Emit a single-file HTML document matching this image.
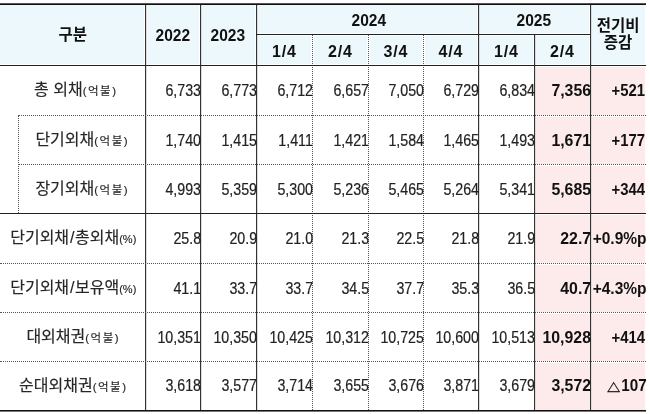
<!DOCTYPE html>
<html lang="ko"><head><meta charset="utf-8"><title>외채 현황</title>
<style>
html,body{margin:0;padding:0;background:#fff;}
body{width:650px;height:414px;position:relative;overflow:hidden;font-family:"Liberation Sans","Noto Sans CJK KR",sans-serif;color:#2a2a2a;}
.bg{position:absolute;}
.h{position:absolute;height:0;border-top:1px solid #222;}
.v{position:absolute;width:0;border-left:1px solid #333;box-shadow:1px 0 0 #dcdcdc;}
.hd{border-top-style:dotted;border-top-color:#555;}
.vd{border-left-style:dotted;border-left-color:#555;box-shadow:none;}
.t{position:absolute;display:flex;align-items:center;white-space:nowrap;box-sizing:border-box;}
.t span{display:inline-block;}
.n{justify-content:flex-end;font-size:16px;padding-top:2px;color:#222;-webkit-text-stroke:0.2px #222;}
.n span{transform:scaleX(0.89);transform-origin:100% 50%;}
.b{font-weight:bold;color:#111;-webkit-text-stroke:0;}
.b span{transform:scaleX(0.99);}
.p1 span{transform:scaleX(0.93);}
.p2 span{transform:scaleX(0.97);}
.p3 span{transform:scaleX(0.95);}
.p3{padding-top:0;}
.r7{padding-top:0.5px;}
.p3 i{font-style:normal;font-size:14px;margin-right:1px;line-height:0;-webkit-text-stroke:0.4px #111;display:inline-block;transform:translateY(1.5px) scaleY(0.82);transform-origin:50% 85%;}
.k{justify-content:center;font-size:16px;padding-bottom:4px;color:#262626;-webkit-text-stroke:0.15px #262626;}
.k small{font-size:11.5px;letter-spacing:1.5px;margin-right:-1.5px;}
.k em{font-style:normal;margin:0 0.5px 0 1px;}
.k small.pc{font-size:11px;letter-spacing:0;}
.hdr{justify-content:center;font-weight:bold;font-size:16px;color:#111;}
.hdr span{transform:scaleX(0.97);}
.hn{padding-top:2px;}
.hs{padding-top:5px;}
.hs span{letter-spacing:0.9px;transform:translateX(0.45px);}
</style></head><body>

<div class="bg" style="left:0px;top:5px;width:144px;height:59px;background:#EDF8FC"></div>
<div class="bg" style="left:147px;top:5px;width:52px;height:59px;background:#EDF8FC"></div>
<div class="bg" style="left:202px;top:5px;width:53px;height:59px;background:#EDF8FC"></div>
<div class="bg" style="left:258px;top:5px;width:219px;height:28px;background:#EDF8FC"></div>
<div class="bg" style="left:480px;top:5px;width:109px;height:28px;background:#EDF8FC"></div>
<div class="bg" style="left:592px;top:5px;width:53px;height:59px;background:#EDF8FC"></div>
<div class="bg" style="left:258px;top:36px;width:53px;height:28px;background:#EDF8FC"></div>
<div class="bg" style="left:314px;top:36px;width:53px;height:28px;background:#EDF8FC"></div>
<div class="bg" style="left:370px;top:36px;width:52px;height:28px;background:#EDF8FC"></div>
<div class="bg" style="left:425px;top:36px;width:52px;height:28px;background:#EDF8FC"></div>
<div class="bg" style="left:480px;top:36px;width:53px;height:28px;background:#EDF8FC"></div>
<div class="bg" style="left:536px;top:36px;width:53px;height:28px;background:#EDF8FC"></div>
<div class="bg" style="left:535px;top:67px;width:55px;height:48px;background:#FDEBEB"></div>
<div class="bg" style="left:592px;top:67px;width:53px;height:48px;background:#FDEBEB"></div>
<div class="bg" style="left:535px;top:117px;width:55px;height:47px;background:#FDEBEB"></div>
<div class="bg" style="left:592px;top:117px;width:53px;height:47px;background:#FDEBEB"></div>
<div class="bg" style="left:535px;top:166px;width:55px;height:47px;background:#FDEBEB"></div>
<div class="bg" style="left:592px;top:166px;width:53px;height:47px;background:#FDEBEB"></div>
<div class="bg" style="left:535px;top:215px;width:55px;height:48px;background:#FDEBEB"></div>
<div class="bg" style="left:592px;top:215px;width:53px;height:48px;background:#FDEBEB"></div>
<div class="bg" style="left:535px;top:265px;width:55px;height:47px;background:#FDEBEB"></div>
<div class="bg" style="left:592px;top:265px;width:53px;height:47px;background:#FDEBEB"></div>
<div class="bg" style="left:535px;top:314px;width:55px;height:47px;background:#FDEBEB"></div>
<div class="bg" style="left:592px;top:314px;width:53px;height:47px;background:#FDEBEB"></div>
<div class="bg" style="left:535px;top:363px;width:55px;height:47px;background:#FDEBEB"></div>
<div class="bg" style="left:592px;top:363px;width:53px;height:47px;background:#FDEBEB"></div>
<div class="bg" style="left:0;top:3px;width:646px;height:1px;background:#555"></div>
<div class="bg" style="left:0;top:4px;width:646px;height:1px;background:#111"></div>
<div class="v vd" style="left:18px;top:115px;height:98px"></div>
<div class="v" style="left:145px;top:5px;height:405px"></div>
<div class="v" style="left:200px;top:5px;height:405px"></div>
<div class="v" style="left:256px;top:5px;height:405px"></div>
<div class="v" style="left:478px;top:5px;height:405px"></div>
<div class="v" style="left:590px;top:5px;height:405px"></div>
<div class="v vd" style="left:312px;top:34px;height:376px"></div>
<div class="v vd" style="left:368px;top:34px;height:376px"></div>
<div class="v vd" style="left:423px;top:34px;height:376px"></div>
<div class="v" style="left:534px;top:34px;height:376px"></div>
<div class="h" style="left:256px;top:34px;width:334px;border-top-width:1px"></div>
<div class="h" style="left:0px;top:65px;width:646px;border-top-width:1px"></div>
<div class="h hd" style="left:18px;top:115px;width:628px;border-top-width:1px"></div>
<div class="h hd" style="left:18px;top:164px;width:628px;border-top-width:1px"></div>
<div class="h" style="left:0px;top:213px;width:646px;border-top-width:1px"></div>
<div class="h hd" style="left:0px;top:263px;width:646px;border-top-width:1px"></div>
<div class="h hd" style="left:0px;top:312px;width:646px;border-top-width:1px"></div>
<div class="h hd" style="left:0px;top:361px;width:646px;border-top-width:1px"></div>
<div class="bg" style="left:0;top:410px;width:646px;height:1px;background:#111"></div>
<div class="bg" style="left:0;top:411px;width:646px;height:1px;background:#777"></div>
<div class="t hdr" style="left:0px;top:1px;width:145px;height:64px;"><span>구분</span></div>
<div class="t hdr hn" style="left:145px;top:5px;width:55px;height:60px;"><span>2022</span></div>
<div class="t hdr hn" style="left:200px;top:5px;width:56px;height:60px;"><span>2023</span></div>
<div class="t hdr hn" style="left:256px;top:5px;width:222px;height:29px;padding-left:3px;"><span>2024</span></div>
<div class="t hdr hn" style="left:478px;top:5px;width:112px;height:29px;"><span>2025</span></div>
<div class="t hdr hs" style="left:256px;top:34px;width:56px;height:31px;"><span>1/4</span></div>
<div class="t hdr hs" style="left:312px;top:34px;width:56px;height:31px;"><span>2/4</span></div>
<div class="t hdr hs" style="left:368px;top:34px;width:55px;height:31px;"><span>3/4</span></div>
<div class="t hdr hs" style="left:423px;top:34px;width:55px;height:31px;"><span>4/4</span></div>
<div class="t hdr hs" style="left:478px;top:34px;width:56px;height:31px;"><span>1/4</span></div>
<div class="t hdr hs" style="left:534px;top:34px;width:56px;height:31px;"><span>2/4</span></div>
<div class="t hdr" style="left:590px;top:3px;width:56px;height:62px;line-height:17.5px;text-align:center;"><span>전기비<br>증감</span></div>
<div class="t k" style="left:0px;top:65px;width:145px;height:50px;padding-left:5px;"><span>총 외채<small>(억불)</small></span></div>
<div class="t n" style="left:145px;top:65px;width:56px;height:50px;"><span>6,733</span></div>
<div class="t n" style="left:200px;top:65px;width:57px;height:50px;"><span>6,773</span></div>
<div class="t n" style="left:256px;top:65px;width:57px;height:50px;"><span>6,712</span></div>
<div class="t n" style="left:312px;top:65px;width:57px;height:50px;"><span>6,657</span></div>
<div class="t n" style="left:368px;top:65px;width:56px;height:50px;"><span>7,050</span></div>
<div class="t n" style="left:423px;top:65px;width:56px;height:50px;"><span>6,729</span></div>
<div class="t n" style="left:478px;top:65px;width:57px;height:50px;"><span>6,834</span></div>
<div class="t n b" style="left:534px;top:65px;width:57px;height:50px;"><span>7,356</span></div>
<div class="t n b p1" style="left:590px;top:65px;width:55px;height:50px;"><span>+521</span></div>
<div class="t k" style="left:18px;top:115px;width:127px;height:49px;"><span>단기외채<small>(억불)</small></span></div>
<div class="t n" style="left:145px;top:115px;width:56px;height:49px;"><span>1,740</span></div>
<div class="t n" style="left:200px;top:115px;width:57px;height:49px;"><span>1,415</span></div>
<div class="t n" style="left:256px;top:115px;width:57px;height:49px;"><span>1,411</span></div>
<div class="t n" style="left:312px;top:115px;width:57px;height:49px;"><span>1,421</span></div>
<div class="t n" style="left:368px;top:115px;width:56px;height:49px;"><span>1,584</span></div>
<div class="t n" style="left:423px;top:115px;width:56px;height:49px;"><span>1,465</span></div>
<div class="t n" style="left:478px;top:115px;width:57px;height:49px;"><span>1,493</span></div>
<div class="t n b" style="left:534px;top:115px;width:57px;height:49px;"><span>1,671</span></div>
<div class="t n b p1" style="left:590px;top:115px;width:55px;height:49px;"><span>+177</span></div>
<div class="t k" style="left:18px;top:164px;width:127px;height:49px;"><span>장기외채<small>(억불)</small></span></div>
<div class="t n" style="left:145px;top:164px;width:56px;height:49px;"><span>4,993</span></div>
<div class="t n" style="left:200px;top:164px;width:57px;height:49px;"><span>5,359</span></div>
<div class="t n" style="left:256px;top:164px;width:57px;height:49px;"><span>5,300</span></div>
<div class="t n" style="left:312px;top:164px;width:57px;height:49px;"><span>5,236</span></div>
<div class="t n" style="left:368px;top:164px;width:56px;height:49px;"><span>5,465</span></div>
<div class="t n" style="left:423px;top:164px;width:56px;height:49px;"><span>5,264</span></div>
<div class="t n" style="left:478px;top:164px;width:57px;height:49px;"><span>5,341</span></div>
<div class="t n b" style="left:534px;top:164px;width:57px;height:49px;"><span>5,685</span></div>
<div class="t n b p1" style="left:590px;top:164px;width:55px;height:49px;"><span>+344</span></div>
<div class="t k" style="left:0px;top:213px;width:145px;height:50px;"><span>단기외채<em>/</em>총외채<small class="pc">(%)</small></span></div>
<div class="t n" style="left:145px;top:213px;width:56px;height:50px;"><span>25.8</span></div>
<div class="t n" style="left:200px;top:213px;width:57px;height:50px;"><span>20.9</span></div>
<div class="t n" style="left:256px;top:213px;width:57px;height:50px;"><span>21.0</span></div>
<div class="t n" style="left:312px;top:213px;width:57px;height:50px;"><span>21.3</span></div>
<div class="t n" style="left:368px;top:213px;width:56px;height:50px;"><span>22.5</span></div>
<div class="t n" style="left:423px;top:213px;width:56px;height:50px;"><span>21.8</span></div>
<div class="t n" style="left:478px;top:213px;width:57px;height:50px;"><span>21.9</span></div>
<div class="t n b" style="left:534px;top:213px;width:57px;height:50px;"><span>22.7</span></div>
<div class="t n b p2" style="left:590px;top:213px;width:57px;height:50px;"><span>+0.9%p</span></div>
<div class="t k" style="left:0px;top:263px;width:145px;height:49px;"><span>단기외채<em>/</em>보유액<small class="pc">(%)</small></span></div>
<div class="t n" style="left:145px;top:263px;width:56px;height:49px;"><span>41.1</span></div>
<div class="t n" style="left:200px;top:263px;width:57px;height:49px;"><span>33.7</span></div>
<div class="t n" style="left:256px;top:263px;width:57px;height:49px;"><span>33.7</span></div>
<div class="t n" style="left:312px;top:263px;width:57px;height:49px;"><span>34.5</span></div>
<div class="t n" style="left:368px;top:263px;width:56px;height:49px;"><span>37.7</span></div>
<div class="t n" style="left:423px;top:263px;width:56px;height:49px;"><span>35.3</span></div>
<div class="t n" style="left:478px;top:263px;width:57px;height:49px;"><span>36.5</span></div>
<div class="t n b" style="left:534px;top:263px;width:57px;height:49px;"><span>40.7</span></div>
<div class="t n b p2" style="left:590px;top:263px;width:57px;height:49px;"><span>+4.3%p</span></div>
<div class="t k" style="left:0px;top:312px;width:145px;height:49px;"><span>대외채권<small>(억불)</small></span></div>
<div class="t n" style="left:145px;top:312px;width:56px;height:49px;"><span>10,351</span></div>
<div class="t n" style="left:200px;top:312px;width:57px;height:49px;"><span>10,350</span></div>
<div class="t n" style="left:256px;top:312px;width:57px;height:49px;"><span>10,425</span></div>
<div class="t n" style="left:312px;top:312px;width:57px;height:49px;"><span>10,312</span></div>
<div class="t n" style="left:368px;top:312px;width:56px;height:49px;"><span>10,725</span></div>
<div class="t n" style="left:423px;top:312px;width:56px;height:49px;"><span>10,600</span></div>
<div class="t n" style="left:478px;top:312px;width:57px;height:49px;"><span>10,513</span></div>
<div class="t n b" style="left:534px;top:312px;width:57px;height:49px;"><span>10,928</span></div>
<div class="t n b p1" style="left:590px;top:312px;width:55px;height:49px;"><span>+414</span></div>
<div class="t k" style="left:0px;top:361px;width:145px;height:49px;"><span>순대외채권<small>(억불)</small></span></div>
<div class="t n r7" style="left:145px;top:361px;width:56px;height:49px;"><span>3,618</span></div>
<div class="t n r7" style="left:200px;top:361px;width:57px;height:49px;"><span>3,577</span></div>
<div class="t n r7" style="left:256px;top:361px;width:57px;height:49px;"><span>3,714</span></div>
<div class="t n r7" style="left:312px;top:361px;width:57px;height:49px;"><span>3,655</span></div>
<div class="t n r7" style="left:368px;top:361px;width:56px;height:49px;"><span>3,676</span></div>
<div class="t n r7" style="left:423px;top:361px;width:56px;height:49px;"><span>3,871</span></div>
<div class="t n r7" style="left:478px;top:361px;width:57px;height:49px;"><span>3,679</span></div>
<div class="t n b r7" style="left:534px;top:361px;width:57px;height:49px;"><span>3,572</span></div>
<div class="t n b p3" style="left:590px;top:361px;width:57px;height:49px;"><span><i>△</i>107</span></div>
</body></html>
